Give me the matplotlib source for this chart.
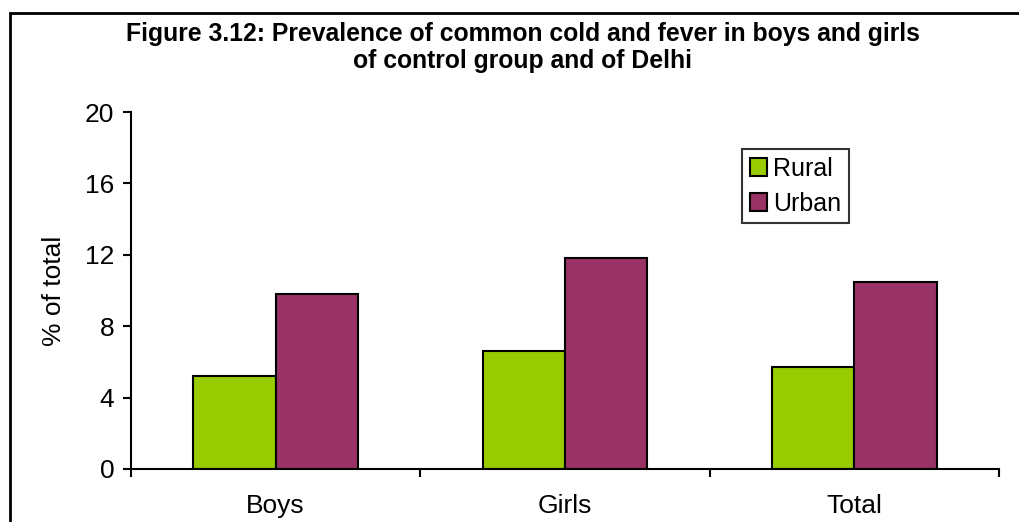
import matplotlib
matplotlib.use('Agg')
import matplotlib.pyplot as plt
import matplotlib.patches as patches
import numpy as np

# data
categories = ['Boys', 'Girls', 'Total']
rural = [5.2, 6.6, 5.7]
urban = [9.8, 11.8, 10.5]
yticks = [0, 4, 8, 12, 16, 20]

plt.rcParams['font.family'] = ['Liberation Sans', 'DejaVu Sans']

fig = plt.figure(figsize=(10.19, 5.22), dpi=100)
ax = fig.add_axes([131/1019, 53/522, 868/1019, 357/522])

x = np.arange(len(categories))
w = 0.285
ax.bar(x - w/2, rural, w, color='#99CC00', edgecolor='black', linewidth=1.5, label='Rural')
ax.bar(x + w/2, urban, w, color='#993366', edgecolor='black', linewidth=1.5, label='Urban')

ax.set_xlim(-0.5, 2.5)
ax.set_ylim(0, 20)
ax.set_yticks(yticks)
ax.set_yticklabels([str(t) for t in yticks], fontsize=19)

# category boundaries get the tick marks, labels sit in the middle
ax.set_xticks([-0.5, 0.5, 1.5, 2.5])
ax.set_xticklabels([])
ax.set_xticks(x, minor=True)
ax.set_xticklabels(categories, minor=True, fontsize=19)
ax.tick_params(axis='x', which='minor', length=0, pad=18)
ax.tick_params(axis='x', which='major', length=6, width=1.5)
ax.tick_params(axis='y', length=6, width=1.5, pad=6)

for s in ['top', 'right']:
    ax.spines[s].set_visible(False)
for s in ['left', 'bottom']:
    ax.spines[s].set_linewidth(1.5)

ax.set_ylabel('% of total', fontsize=19, labelpad=14)

leg = ax.legend(loc='upper left', bbox_to_anchor=(0.704, 0.896), fontsize=18,
                frameon=True, fancybox=False, handlelength=0.7, handleheight=0.7,
                handletextpad=0.25, borderpad=0.3, labelspacing=0.45, borderaxespad=0)
leg.get_frame().set_edgecolor('black')
leg.get_frame().set_linewidth(1.5)

fig.text(0.513, 1 - 34/522, 'Figure 3.12: Prevalence of common cold and fever in boys and girls',
         ha='center', va='center', fontsize=17.8, fontweight='bold')
fig.text(0.513, 1 - 61/522, 'of control group and of Delhi',
         ha='center', va='center', fontsize=17.8, fontweight='bold')

# outer chart border (runs off the right and bottom of the picture)
border = patches.Rectangle((10/1019, -0.2), 1.2, 1 - 13/522 + 0.2, transform=fig.transFigure,
                           fill=False, edgecolor='black', linewidth=2, clip_on=False)
fig.patches.append(border)

fig.savefig('out.png', dpi=100)
